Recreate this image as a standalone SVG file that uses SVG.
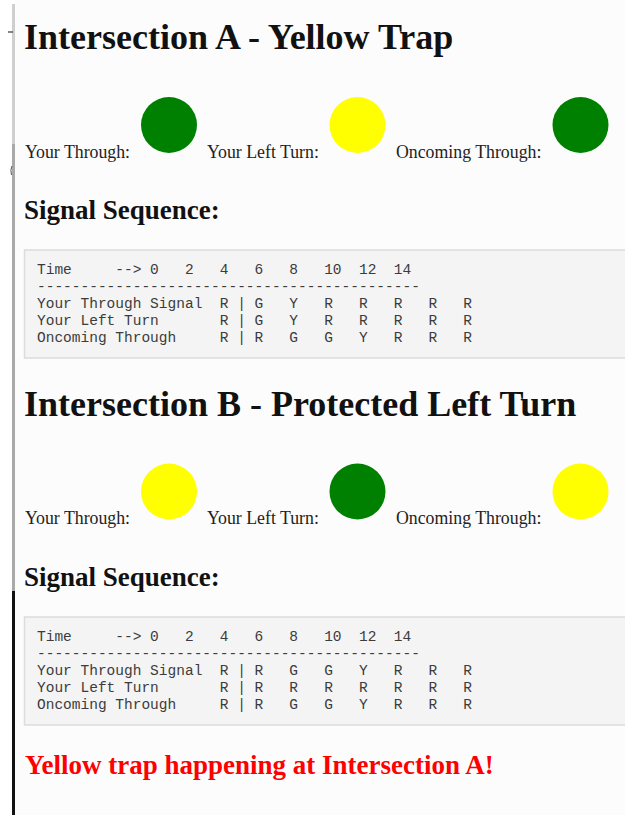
<svg xmlns="http://www.w3.org/2000/svg" width="625" height="815" viewBox="0 0 625 815">
  <style>
    .h1 { font-family: "Liberation Serif", "Times New Roman", serif; font-weight: bold; font-size: 36px; fill: #111; }
    .h2 { font-family: "Liberation Serif", "Times New Roman", serif; font-weight: bold; font-size: 27px; fill: #111; }
    .lbl { font-family: "Liberation Serif", "Times New Roman", serif; font-size: 17.8px; fill: #222; }
    .pre { font-family: "Liberation Mono", "Courier New", monospace; font-size: 14.5px; fill: #3c3c3c; }
    .box { fill: #f4f4f4; stroke: #dcdcdc; stroke-width: 1.5; }
    .green { fill: #008000; }
    .yellow { fill: #ffff00; }
    .warn { font-family: "Liberation Serif", "Times New Roman", serif; font-weight: bold; font-size: 27px; fill: #ff0000; }
  </style>
  <rect x="0" y="0" width="625" height="815" fill="#ffffff"/>
  <rect x="15" y="0" width="610" height="815" fill="#fcfcfc"/>

  <!-- left edge bar -->
  <g id="edge">
    <rect x="12" y="4" width="3" height="140" fill="#cfcfcf"/>
    <rect x="12" y="144" width="3" height="447" fill="#a9a9a9"/>
    <rect x="12" y="591" width="3" height="224" fill="#111"/>
    <line x1="8" y1="32" x2="13" y2="32" stroke="#333" stroke-width="1.2"/>
    <path d="M12 166 Q10 170 11.5 175" fill="none" stroke="#555" stroke-width="1"/>
  </g>

  <!-- Intersection A -->
  <g id="intersectionA">
    <text class="h1" x="24" y="48.5">Intersection A - Yellow Trap</text>
    <g id="signalsA">
      <text class="lbl" x="25" y="158">Your Through:</text>
      <circle class="green" cx="169" cy="125" r="28"/>
      <text class="lbl" x="207" y="158">Your Left Turn:</text>
      <circle class="yellow" cx="357.5" cy="125" r="28"/>
      <text class="lbl" x="396" y="158">Oncoming Through:</text>
      <circle class="green" cx="580.5" cy="125" r="28"/>
    </g>
    <text class="h2" x="24" y="219">Signal Sequence:</text>
    <g id="sequenceA">
      <rect class="box" x="24.5" y="250" width="610" height="108"/>
      <text class="pre" xml:space="preserve" x="37" y="274">Time     --&gt; 0   2   4   6   8   10  12  14</text>
      <text class="pre" xml:space="preserve" x="37" y="291">--------------------------------------------</text>
      <text class="pre" xml:space="preserve" x="37" y="308">Your Through Signal  R | G   Y   R   R   R   R   R</text>
      <text class="pre" xml:space="preserve" x="37" y="325">Your Left Turn       R | G   Y   R   R   R   R   R</text>
      <text class="pre" xml:space="preserve" x="37" y="342">Oncoming Through     R | R   G   G   Y   R   R   R</text>
    </g>
  </g>

  <!-- Intersection B -->
  <g id="intersectionB">
    <text class="h1" x="24" y="415.5">Intersection B - Protected Left Turn</text>
    <g id="signalsB">
      <text class="lbl" x="25" y="524">Your Through:</text>
      <circle class="yellow" cx="169" cy="491.5" r="28"/>
      <text class="lbl" x="207" y="524">Your Left Turn:</text>
      <circle class="green" cx="357.5" cy="491.5" r="28"/>
      <text class="lbl" x="396" y="524">Oncoming Through:</text>
      <circle class="yellow" cx="580.5" cy="491.5" r="28"/>
    </g>
    <text class="h2" x="24" y="586">Signal Sequence:</text>
    <g id="sequenceB">
      <rect class="box" x="24.5" y="617" width="610" height="108"/>
      <text class="pre" xml:space="preserve" x="37" y="641">Time     --&gt; 0   2   4   6   8   10  12  14</text>
      <text class="pre" xml:space="preserve" x="37" y="658">--------------------------------------------</text>
      <text class="pre" xml:space="preserve" x="37" y="675">Your Through Signal  R | R   G   G   Y   R   R   R</text>
      <text class="pre" xml:space="preserve" x="37" y="692">Your Left Turn       R | R   R   R   R   R   R   R</text>
      <text class="pre" xml:space="preserve" x="37" y="709">Oncoming Through     R | R   G   G   Y   R   R   R</text>
    </g>
  </g>

  <g id="warning">
    <text class="warn" x="25" y="774">Yellow trap happening at Intersection A!</text>
  </g>
</svg>
